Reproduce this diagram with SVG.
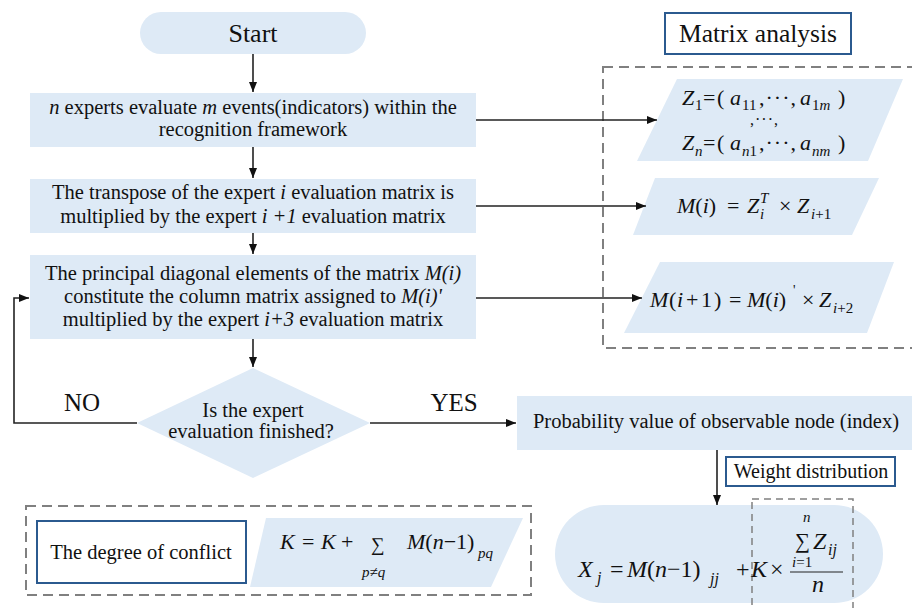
<svg xmlns="http://www.w3.org/2000/svg" width="912" height="608" viewBox="0 0 912 608">
<defs>
<marker id="ah" viewBox="0 0 10 10" refX="10" refY="5" markerWidth="10" markerHeight="10" markerUnits="userSpaceOnUse" orient="auto">
<path d="M0,1 L10,5 L0,9 Z" fill="#111"/>
</marker>
</defs>

<g id="frames" fill="none" stroke="#808080" stroke-width="2" stroke-dasharray="10 6">
<rect id="matrix-frame" x="603" y="67" width="330" height="281"/>
<rect id="conflict-frame" x="26" y="506" width="505" height="89"/>
</g>

<g id="start">
<rect fill="#deeaf6" x="140" y="12" width="226" height="42" rx="21"/>
<text font-family="Liberation Serif" fill="#111" font-size="26" text-anchor="middle" x="253" y="42">Start</text>
</g>

<g id="step1" fill="#111" font-size="20.5" text-anchor="middle">
<rect fill="#deeaf6" x="30" y="93" width="446" height="54"/>
<text font-family="Liberation Serif" x="253" y="114"><tspan font-style="italic">n</tspan> experts evaluate <tspan font-style="italic">m</tspan> events(indicators) within the</text>
<text font-family="Liberation Serif" x="253" y="136">recognition framework</text>
</g>

<g id="step2" fill="#111" font-size="20.5" text-anchor="middle">
<rect fill="#deeaf6" x="30" y="179" width="446" height="54"/>
<text font-family="Liberation Serif" x="253" y="199">The transpose of the expert <tspan font-style="italic">i</tspan> evaluation matrix is</text>
<text font-family="Liberation Serif" x="253" y="223">multiplied by the expert <tspan font-style="italic">i +1</tspan> evaluation matrix</text>
</g>

<g id="step3" fill="#111" font-size="20.5" text-anchor="middle">
<rect fill="#deeaf6" x="30" y="255" width="446" height="84"/>
<text font-family="Liberation Serif" x="253" y="280">The principal diagonal elements of the matrix <tspan font-style="italic">M(i)</tspan></text>
<text font-family="Liberation Serif" x="253" y="303">constitute the column matrix assigned to <tspan font-style="italic">M(i)'</tspan></text>
<text font-family="Liberation Serif" x="253" y="326">multiplied by the expert <tspan font-style="italic">i+3</tspan> evaluation matrix</text>
</g>

<g id="decision" fill="#111" font-size="20.5" text-anchor="middle">
<polygon fill="#deeaf6" points="253,368 370,423 253,478 137,423"/>
<text font-family="Liberation Serif" x="253" y="417">Is the expert</text>
<text font-family="Liberation Serif" x="251" y="438">evaluation finished?</text>
</g>

<g id="probability" fill="#111" font-size="20.5" text-anchor="middle">
<rect fill="#deeaf6" x="517" y="396" width="400" height="54"/>
<text font-family="Liberation Serif" x="716" y="428">Probability value of observable node (index)</text>
</g>

<g id="weight-label" fill="#111" font-size="20" text-anchor="middle">
<rect fill="#fff" stroke="#2b5a8f" stroke-width="2" x="726" y="457" width="169" height="29"/>
<text font-family="Liberation Serif" x="811" y="478">Weight distribution</text>
</g>

<g id="matrix-label" fill="#111" font-size="25.5" text-anchor="middle">
<rect fill="#fff" stroke="#2b5a8f" stroke-width="2" x="665" y="13" width="186" height="41"/>
<text font-family="Liberation Serif" x="758" y="42">Matrix analysis</text>
</g>

<g id="formula-z" fill="#111" font-size="22">
<polygon fill="#deeaf6" points="677,79 903,79 868,161 637,161"/>
<text font-family="Liberation Serif"><tspan font-style="italic" x="682" y="105">Z</tspan><tspan font-size="15" x="695" y="110">1</tspan><tspan x="703" y="105">=</tspan><tspan x="717" y="105">(</tspan><tspan font-style="italic" x="730" y="105">a</tspan><tspan font-size="15" x="742" y="110">11</tspan><tspan letter-spacing="1" x="759" y="105">,···,</tspan><tspan font-style="italic" x="800" y="105">a</tspan><tspan font-size="15" x="812" y="110">1</tspan><tspan font-style="italic" font-size="15" y="110">m</tspan><tspan x="838" y="105">)</tspan></text>
<text font-family="Liberation Serif" font-size="16" letter-spacing="1" x="750" y="125">,···,</text>
<text font-family="Liberation Serif"><tspan font-style="italic" x="682" y="150">Z</tspan><tspan font-style="italic" font-size="15" x="695" y="156">n</tspan><tspan x="703" y="150">=</tspan><tspan x="717" y="150">(</tspan><tspan font-style="italic" x="730" y="150">a</tspan><tspan font-style="italic" font-size="15" x="742" y="156">n</tspan><tspan font-size="15" y="156">1</tspan><tspan letter-spacing="1" x="759" y="150">,···,</tspan><tspan font-style="italic" x="800" y="150">a</tspan><tspan font-style="italic" font-size="15" x="812" y="156">nm</tspan><tspan x="838" y="150">)</tspan></text>
</g>

<g id="formula-m" fill="#111" font-size="22">
<polygon fill="#deeaf6" points="655,178 879,178 852,235 633,235"/>
<text font-family="Liberation Serif"><tspan font-style="italic" x="677" y="213">M</tspan><tspan>(</tspan><tspan font-style="italic">i</tspan><tspan>)</tspan><tspan x="727" y="213">=</tspan><tspan font-style="italic" x="747" y="213">Z</tspan><tspan font-style="italic" font-size="15" x="760" y="203">T</tspan><tspan font-style="italic" font-size="15" x="760" y="219">i</tspan><tspan x="779" y="213">×</tspan><tspan font-style="italic" x="797" y="213">Z</tspan><tspan font-style="italic" font-size="15" x="811" y="219">i</tspan><tspan font-size="15">+1</tspan></text>
</g>

<g id="formula-m1" fill="#111" font-size="22">
<polygon fill="#deeaf6" points="660,262 894,262 867,333 624,333"/>
<text font-family="Liberation Serif"><tspan font-style="italic" x="650" y="307">M</tspan><tspan x="669">(</tspan><tspan font-style="italic" x="677">i</tspan><tspan x="686">+</tspan><tspan x="701">1</tspan><tspan x="714">)</tspan><tspan x="729">=</tspan><tspan font-style="italic" x="747">M</tspan><tspan>(</tspan><tspan font-style="italic">i</tspan><tspan>)</tspan><tspan font-size="14" x="793" y="295">'</tspan><tspan x="802" y="307">×</tspan><tspan font-style="italic" x="819" y="307">Z</tspan><tspan font-style="italic" font-size="15" x="833" y="313">i</tspan><tspan font-size="15">+2</tspan></text>
</g>

<g id="conflict-label" fill="#111" font-size="20.5" text-anchor="middle">
<rect fill="#fff" stroke="#2b5a8f" stroke-width="2" x="37" y="521" width="209" height="62"/>
<text font-family="Liberation Serif" x="141" y="559">The degree of conflict</text>
</g>

<g id="formula-k" fill="#111" font-size="22">
<polygon fill="#deeaf6" points="266,518 523,518 491,587 250,587"/>
<text font-family="Liberation Serif"><tspan font-style="italic" x="280" y="549">K</tspan><tspan x="302" y="549">=</tspan><tspan font-style="italic" x="321" y="549">K</tspan><tspan x="341" y="549">+</tspan><tspan font-size="19" x="371" y="551">∑</tspan><tspan font-style="italic" font-size="15" x="362" y="577">p</tspan><tspan font-size="15">≠</tspan><tspan font-style="italic" font-size="15">q</tspan><tspan font-style="italic" x="407" y="549">M</tspan><tspan>(</tspan><tspan font-style="italic">n</tspan><tspan>−1)</tspan><tspan font-style="italic" font-size="15" x="478" y="558">pq</tspan></text>
</g>

<g id="result" fill="#111" font-size="24">
<rect fill="#deeaf6" x="555" y="505" width="328" height="98" rx="49"/>
<rect fill="none" stroke="#808080" stroke-width="1.5" stroke-dasharray="7 5" x="752" y="499" width="101" height="120"/>
<text font-family="Liberation Serif"><tspan font-style="italic" x="578" y="577">X</tspan><tspan font-style="italic" font-size="16" x="597" y="583">j</tspan><tspan x="610" y="577">=</tspan><tspan font-style="italic" x="627" y="577">M</tspan><tspan>(</tspan><tspan font-style="italic">n</tspan><tspan>−1)</tspan><tspan font-style="italic" font-size="16" x="710" y="584">jj</tspan><tspan x="736" y="577">+</tspan><tspan font-style="italic" x="751" y="577">K</tspan><tspan x="770" y="577">×</tspan><tspan font-size="21" x="795" y="548">∑</tspan><tspan font-style="italic" font-size="15" x="803" y="522">n</tspan><tspan font-style="italic" x="813" y="549">Z</tspan><tspan font-style="italic" font-size="16" x="828" y="555">ij</tspan><tspan font-style="italic" font-size="15" x="792" y="567">i</tspan><tspan font-size="15">=1</tspan><tspan font-style="italic" x="812" y="592">n</tspan></text>
<line x1="790" y1="572" x2="843" y2="572" stroke="#222" stroke-width="1"/>
</g>

<g id="connectors" fill="none" stroke="#222" stroke-width="1.6">
<line x1="253" y1="54" x2="253" y2="92" marker-end="url(#ah)"/>
<line x1="253" y1="147" x2="253" y2="178" marker-end="url(#ah)"/>
<line x1="253" y1="233" x2="253" y2="254" marker-end="url(#ah)"/>
<line x1="253" y1="339" x2="253" y2="367" marker-end="url(#ah)"/>
<polyline points="137,423 14,423 14,298 29,298" marker-end="url(#ah)"/>
<line x1="370" y1="423" x2="516" y2="423" marker-end="url(#ah)"/>
<line x1="476" y1="120" x2="657" y2="120" marker-end="url(#ah)"/>
<line x1="476" y1="206" x2="646" y2="206" marker-end="url(#ah)"/>
<line x1="476" y1="298" x2="642" y2="298" marker-end="url(#ah)"/>
<line x1="717" y1="450" x2="717" y2="505" marker-end="url(#ah)"/>
<text font-family="Liberation Serif" fill="#111" stroke="none" font-size="25" text-anchor="middle" x="82" y="411">NO</text>
<text font-family="Liberation Serif" fill="#111" stroke="none" font-size="25" text-anchor="middle" x="454" y="411">YES</text>
</g>
</svg>
